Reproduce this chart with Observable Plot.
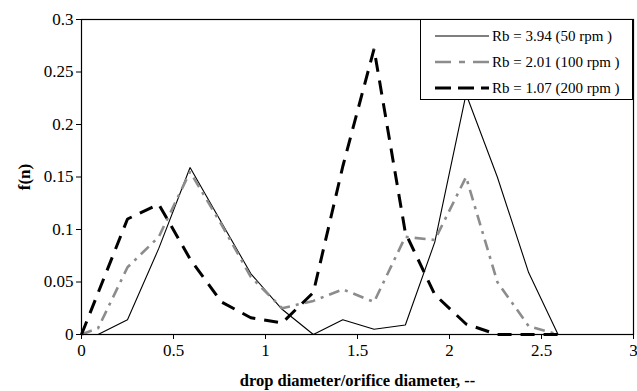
<!DOCTYPE html>
<html><head><meta charset="utf-8">
<script src="https://cdn.jsdelivr.net/npm/d3@7"></script>
<script src="https://cdn.jsdelivr.net/npm/@observablehq/plot@0.6"></script>
<style>
body{margin:0;background:#fff;}
#wrap{position:relative;width:637px;height:391px;font-family:'Liberation Serif','DejaVu Serif','Times New Roman',Times,serif;}
#wrap svg text{font-family:'Liberation Serif','DejaVu Serif','Times New Roman',Times,serif;}
#legend{position:absolute;left:420px;top:19px;width:213px;height:81px;box-sizing:border-box;border:1px solid #000;background:#fff;}
#legend .row{position:absolute;left:14px;height:20px;display:flex;align-items:center;font-size:15px;color:#000;white-space:nowrap;font-family:'Liberation Serif','DejaVu Serif','Times New Roman',Times,serif;}
#legend svg{margin-right:3px;}
g[aria-label="y-axis label"] text, g[aria-label="x-axis label"] text{font-weight:bold;}
g[aria-label="x-axis label"] text{font-size:16.5px;}
</style>
</head><body>
<div id="wrap"></div>
<script>
const xs = [0, 0.09, 0.25, 0.42, 0.59, 0.76, 0.92, 1.09, 1.26, 1.42, 1.59, 1.76, 1.92, 2.09, 2.26, 2.43, 2.59];
const rb394 = [null, 0, 0.014, 0.082, 0.159, 0.107, 0.058, 0.024, 0, 0.014, 0.005, 0.009, 0.088, 0.229, 0.15, 0.059, 0];
const rb201 = [0, 0.006, 0.064, 0.093, 0.155, 0.105, 0.055, 0.025, 0.032, 0.043, 0.031, 0.093, 0.09, 0.15, 0.05, 0.008, 0];
const rb107 = [0, null, 0.11, 0.124, 0.072, 0.031, 0.016, 0.011, 0.04, 0.16, 0.272, 0.097, 0.038, 0.01, 0, 0, 0];
const seriesNames = ["Rb = 3.94 (50 rpm )", "Rb = 2.01 (100 rpm )", "Rb = 1.07 (200 rpm )"];
const xTicks = [0, 0.5, 1, 1.5, 2, 2.5, 3];
const yTicks = [0, 0.05, 0.1, 0.15, 0.2, 0.25, 0.3];
const xLabel = "drop diameter/orifice diameter, --";
const yLabel = "f(n)";

const FONT = "'Liberation Serif','DejaVu Serif','Times New Roman',Times,serif";
const styles = [
  {stroke: "#000", strokeWidth: 1.1, strokeDasharray: null},
  {stroke: "#8c8c8c", strokeWidth: 2.6, strokeDasharray: "11,6,3,6"},
  {stroke: "#000", strokeWidth: 3, strokeDasharray: "14,9"}
];

const toRows = (vals, s) => xs.map((x, i) => ({x, y: vals[i], s})).filter(d => d.y != null);
const all = [rb394, rb201, rb107].map((v, i) => toRows(v, i));

const chart = Plot.plot({
  width: 637, height: 391,
  marginLeft: 81, marginRight: 4, marginTop: 19, marginBottom: 57,
  style: {fontFamily: FONT, fontSize: "17px", color: "#000", background: "#fff"},
  x: {domain: [0, 3]},
  y: {domain: [0, 0.3]},
  marks: [
    ...all.map((rows, i) => Plot.line(rows, {x: "x", y: "y", stroke: styles[i].stroke, strokeWidth: styles[i].strokeWidth, strokeDasharray: styles[i].strokeDasharray, strokeLinejoin: "miter", strokeLinecap: "butt"})),
    Plot.frame({stroke: "#000", strokeWidth: 1.2}),
    Plot.axisY({ticks: yTicks, tickSize: 5, tickPadding: 3, fontSize: 17, label: yLabel, labelAnchor: "center", labelArrow: "none", labelOffset: 64, tickFormat: d3.format("")}),
    Plot.axisX({ticks: xTicks, tickSize: 5, tickPadding: 4, fontSize: 17, label: xLabel, labelAnchor: "center", labelArrow: "none", labelOffset: 51, tickFormat: d3.format("")})
  ]
});
const wrap = document.getElementById("wrap");
wrap.appendChild(chart);

const leg = document.createElement("div");
leg.id = "legend";
const rowTops = [6, 32, 58];
seriesNames.forEach((name, i) => {
  const row = document.createElement("div");
  row.className = "row";
  row.style.top = rowTops[i] + "px";
  const st = styles[i];
  row.innerHTML = `<svg width="54" height="10"><line x1="0" y1="5" x2="54" y2="5" stroke="${st.stroke}" stroke-width="${st.strokeWidth}" ${st.strokeDasharray ? `stroke-dasharray="${i===1 ? '16,8,6,8' : '16,7'}"` : ""}/></svg><span>${name}</span>`;
  leg.appendChild(row);
});
wrap.appendChild(leg);
</script>
</body></html>
